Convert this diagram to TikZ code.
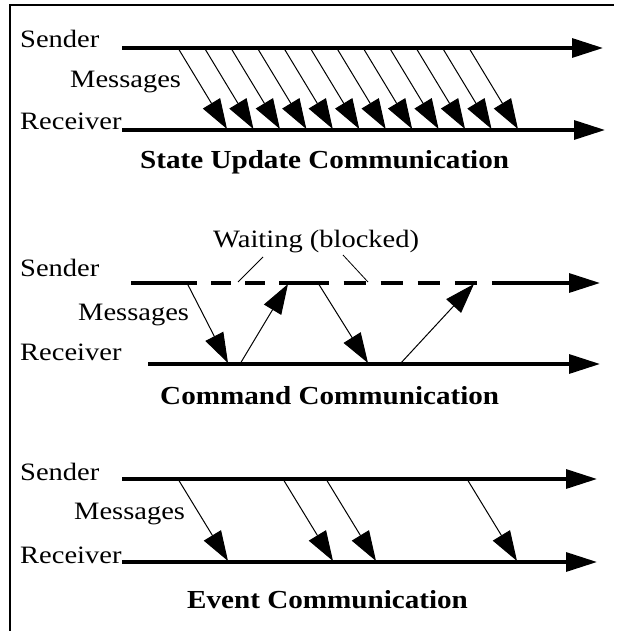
\documentclass[tikz,border=0pt]{standalone}
\usepackage{fontspec}
\setmainfont{Liberation Serif}
\usetikzlibrary{arrows.meta}
\tikzset{
	timeline/.style={line width=3.2pt, -{Triangle[length=31pt,width=19pt]}},
	plainline/.style={line width=3.2pt},
	msg/.style={line width=1pt, -{Triangle[length=30pt,width=20pt]}},
	leader/.style={line width=0.8pt},
	lbl/.style={font=\fontsize{25}{30}\selectfont, inner sep=0pt, anchor=base west, xscale=1.14},
	heading/.style={font=\fontsize{26}{30}\selectfont\bfseries, inner sep=0pt, anchor=base west, xscale=1.12}
}
\begin{document}
\begin{tikzpicture}[x=1pt, y=-1pt]
			\useasboundingbox[fill=white] (0,0) rectangle (624,631);
			\draw[line width=2pt] (10,631) -- (10,5) -- (614,5);
			% state update
			\coordinate (s1) at (122,48);
			\coordinate (s1end) at (603,48);
			\coordinate (r1) at (122,130);
			\coordinate (r1end) at (605,130);
			\draw[timeline] (s1) -- (s1end);
			\draw[timeline] (r1) -- (r1end);
			\foreach\i in {0,...,11} {
				\coordinate (a\i) at (178+26.45*\i,48);
				\coordinate (b\i) at (227+26.45*\i,129);
				\draw[msg] (a\i) -- (b\i);
			}
			\node[lbl] (snd1) at (20,48) {Sender};
			\node[lbl] (msg1) at (70,88) {Messages};
			\node[lbl] (rcv1) at (20,130) {Receiver};
			\node[heading] (title1) at (140,168) {State Update Communication};
			% command
			\coordinate (s2) at (131,283);
			\coordinate (s2a) at (197,283);
			\coordinate (s2b) at (279,283);
			\coordinate (s2c) at (329,283);
			\coordinate (s2d) at (492,283);
			\coordinate (s2end) at (600,283);
			\coordinate (r2) at (148,364);
			\coordinate (r2end) at (600,364);
			\draw[plainline] (s2) -- (s2a);
			\draw[plainline, dash pattern=on 20pt off 14pt, dash phase=20pt] (s2a) -- (s2b);
			\draw[plainline] (s2b) -- (s2c);
			\draw[plainline, dash pattern=on 22.6pt off 14.5pt, dash phase=22.6pt] (s2c) -- (s2d);
			\draw[timeline] (s2d) -- (s2end);
			\draw[timeline] (r2) -- (r2end);
			\coordinate (c1) at (187,283);
			\coordinate (c2) at (228,363);
			\coordinate (c3) at (240,364);
			\coordinate (c4) at (288,284);
			\coordinate (c5) at (318,283);
			\coordinate (c6) at (368,363);
			\coordinate (c7) at (400,364);
			\coordinate (c8) at (474,284);
			\draw[msg] (c1) -- (c2);
			\draw[msg] (c3) -- (c4);
			\draw[msg] (c5) -- (c6);
			\draw[msg] (c7) -- (c8);
			\node[lbl] (wait) at (213,247) {Waiting (blocked)};
			\coordinate (w1) at (263,257);
			\coordinate (g1) at (238,282);
			\coordinate (w2) at (343,255);
			\coordinate (g2) at (368,282);
			\draw[leader] (w1) -- (g1);
			\draw[leader] (w2) -- (g2);
			\node[lbl] (snd2) at (20,276) {Sender};
			\node[lbl] (msg2) at (78,320) {Messages};
			\node[lbl] (rcv2) at (20,360) {Receiver};
			\node[heading] (title2) at (160,404) {Command Communication};
			% event
			\coordinate (s3) at (122,479);
			\coordinate (s3end) at (597,479);
			\coordinate (r3) at (122,562);
			\coordinate (r3end) at (597,562);
			\draw[timeline] (s3) -- (s3end);
			\draw[timeline] (r3) -- (r3end);
			\foreach\x [count=\i] in {178,283,326,467} {
				\coordinate (e\i) at (\x,479);
				\coordinate (f\i) at (\x+50,561);
				\draw[msg] (e\i) -- (f\i);
			}
			\node[lbl] (snd3) at (20,480) {Sender};
			\node[lbl] (msg3) at (74,519) {Messages};
			\node[lbl] (rcv3) at (20,563) {Receiver};
			\node[heading] (title3) at (187,608) {Event Communication};
\end{tikzpicture}
\end{document}
